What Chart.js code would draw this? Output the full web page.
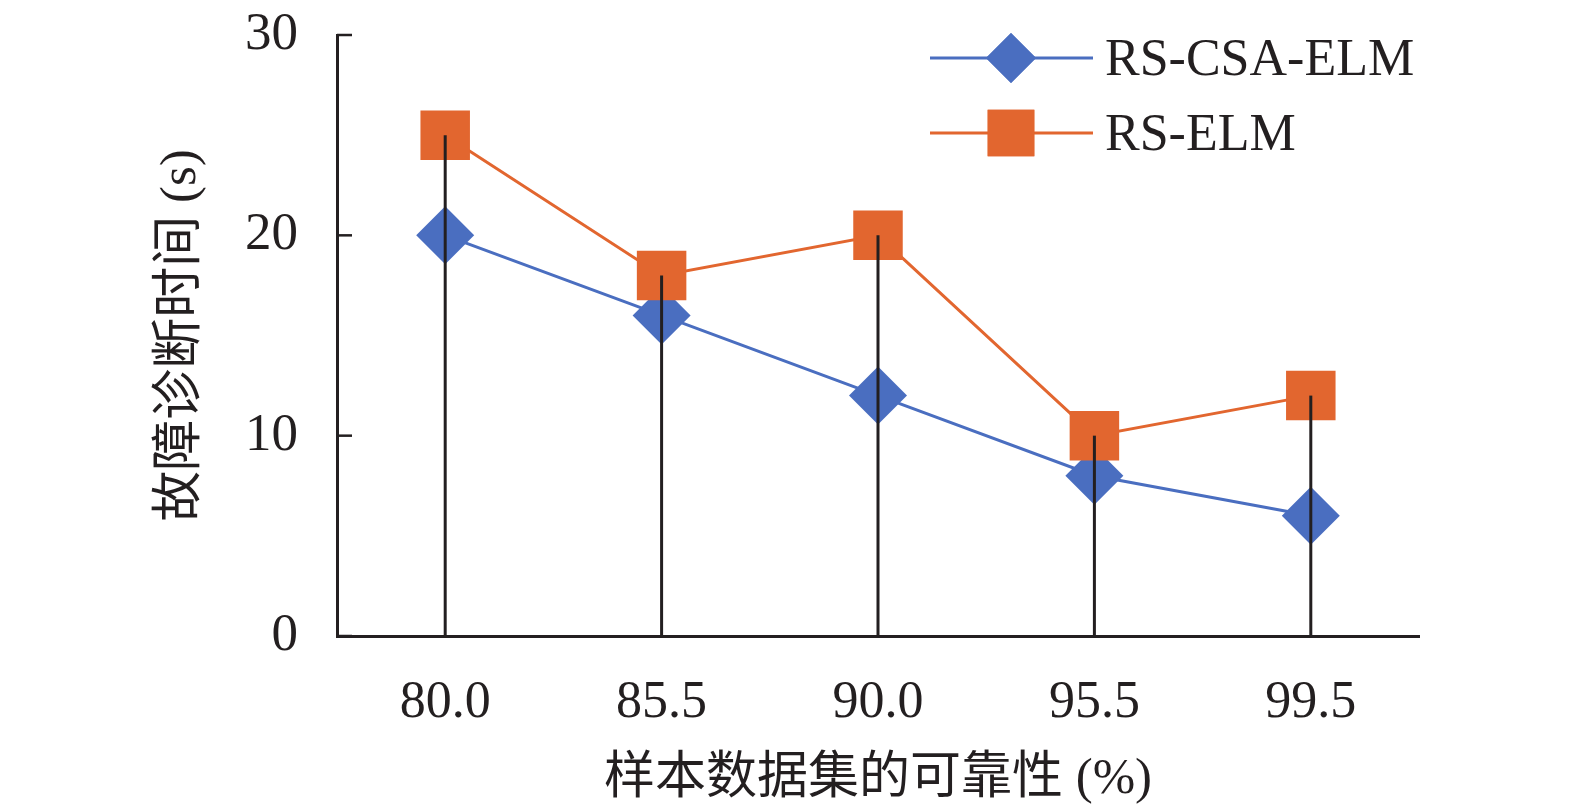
<!DOCTYPE html>
<html>
<head>
<meta charset="utf-8">
<script src="https://cdn.jsdelivr.net/npm/chart.js@4"></script>
<style>
    body { margin: 0; background: #fff; }
</style>
</head>
<body>
<canvas id="chart" width="1575" height="810"></canvas>
<script>
const labels = ['80.0', '85.5', '90.0', '95.5', '99.5'];
const csaElmTimes = [20, 16, 12, 8, 6];
const elmTimes = [25, 18, 20, 10, 12];
const yTicks = [0, 10, 20, 30];

const FONT = '"Liberation Serif", "Times New Roman", "Noto Sans CJK SC", serif';
const BLUE = '#4A6EC0';
const ORANGE = '#E2662F';
const AXIS = '#231F20';

// drop lines from the higher point down to the x axis
const dropLines = {
    id: 'dropLines',
    afterDatasetsDraw(chart) {
        const {ctx, scales: {x, y}} = chart;
        ctx.save();
        ctx.strokeStyle = AXIS;
        ctx.lineWidth = 3;
        labels.forEach((l, i) => {
            const top = Math.max(csaElmTimes[i], elmTimes[i]);
            const px = x.getPixelForValue(i);
            ctx.beginPath();
            ctx.moveTo(px, y.getPixelForValue(top));
            ctx.lineTo(px, y.getPixelForValue(0));
            ctx.stroke();
        });
        ctx.restore();
    }
};

// inward ticks on the value axis
const innerTicks = {
    id: 'innerTicks',
    afterDraw(chart) {
        const {ctx, scales: {y}} = chart;
        ctx.save();
        ctx.strokeStyle = AXIS;
        ctx.lineWidth = 2.5;
        yTicks.forEach(v => {
            const py = y.getPixelForValue(v);
            ctx.beginPath();
            ctx.moveTo(y.right, py);
            ctx.lineTo(y.right + 15, py);
            ctx.stroke();
        });
        ctx.restore();
    }
};

// legend: line with marker in the middle
const lineLegend = {
    id: 'lineLegend',
    afterDraw(chart) {
        const ctx = chart.ctx;
        const rows = [
            {text: 'RS-CSA-ELM', color: BLUE, style: 'rectRot', radius: 25, y: 58},
            {text: 'RS-ELM', color: ORANGE, style: 'rect', radius: 33, y: 133}
        ];
        ctx.save();
        rows.forEach(r => {
            ctx.strokeStyle = r.color;
            ctx.lineWidth = 3;
            ctx.beginPath();
            ctx.moveTo(930, r.y);
            ctx.lineTo(1093, r.y);
            ctx.stroke();
            ctx.fillStyle = r.color;
            Chart.helpers.drawPoint(ctx, {pointStyle: r.style, radius: r.radius, borderWidth: 0}, 1011, r.y);
            ctx.fill();
            ctx.fillStyle = AXIS;
            ctx.font = '52px ' + FONT;
            ctx.textBaseline = 'middle';
            ctx.textAlign = 'left';
            ctx.fillText(r.text, 1105, r.y + 3);
        });
        ctx.restore();
    }
};

new Chart(document.getElementById('chart'), {
    type: 'line',
    data: {
        labels: labels,
        datasets: [
            {
                label: 'RS-CSA-ELM',
                data: csaElmTimes,
                borderColor: BLUE,
                backgroundColor: BLUE,
                borderWidth: 3,
                pointStyle: 'rectRot',
                pointRadius: 29,
                pointBorderWidth: 0,
                order: 1
            },
            {
                label: 'RS-ELM',
                data: elmTimes,
                borderColor: ORANGE,
                backgroundColor: ORANGE,
                borderWidth: 3,
                pointStyle: 'rect',
                pointRadius: 35,
                pointBorderWidth: 0,
                order: 0
            }
        ]
    },
    options: {
        responsive: false,
        animation: false,
        devicePixelRatio: 1,
        layout: {
            padding: {top: 30, right: 156, left: 0, bottom: 0}
        },
        plugins: {
            legend: {display: false},
            tooltip: {enabled: false}
        },
        scales: {
            x: {
                offset: true,
                grid: {display: false, drawTicks: false},
                border: {color: AXIS, width: 3},
                ticks: {
                    color: AXIS,
                    font: {family: FONT, size: 52},
                    padding: 36,
                    maxRotation: 0
                },
                title: {
                    display: true,
                    text: '样本数据集的可靠性 (%)',
                    color: AXIS,
                    font: {family: FONT, size: 51},
                    padding: {bottom: 0}
                },
                afterFit(scale) {
                    scale.height = 174;
                    scale.paddingLeft = 0;
                    scale.paddingRight = 0;
                }
            },
            y: {
                min: 0,
                max: 30,
                grid: {display: false, drawTicks: false},
                border: {color: AXIS, width: 3},
                afterBuildTicks(scale) {
                    scale.ticks = yTicks.map(v => ({value: v}));
                },
                ticks: {
                    color: AXIS,
                    font: {family: FONT, size: 53},
                    padding: 39
                },
                title: {
                    display: true,
                    text: '故障诊断时间 (s)',
                    color: AXIS,
                    font: {family: FONT, size: 51},
                    padding: {top: 151}
                },
                afterFit(scale) {
                    scale.width = 337;
                    scale.paddingTop = 0;
                    scale.paddingBottom = 0;
                }
            }
        }
    },
    plugins: [dropLines, innerTicks, lineLegend]
});
</script>
</body>
</html>
